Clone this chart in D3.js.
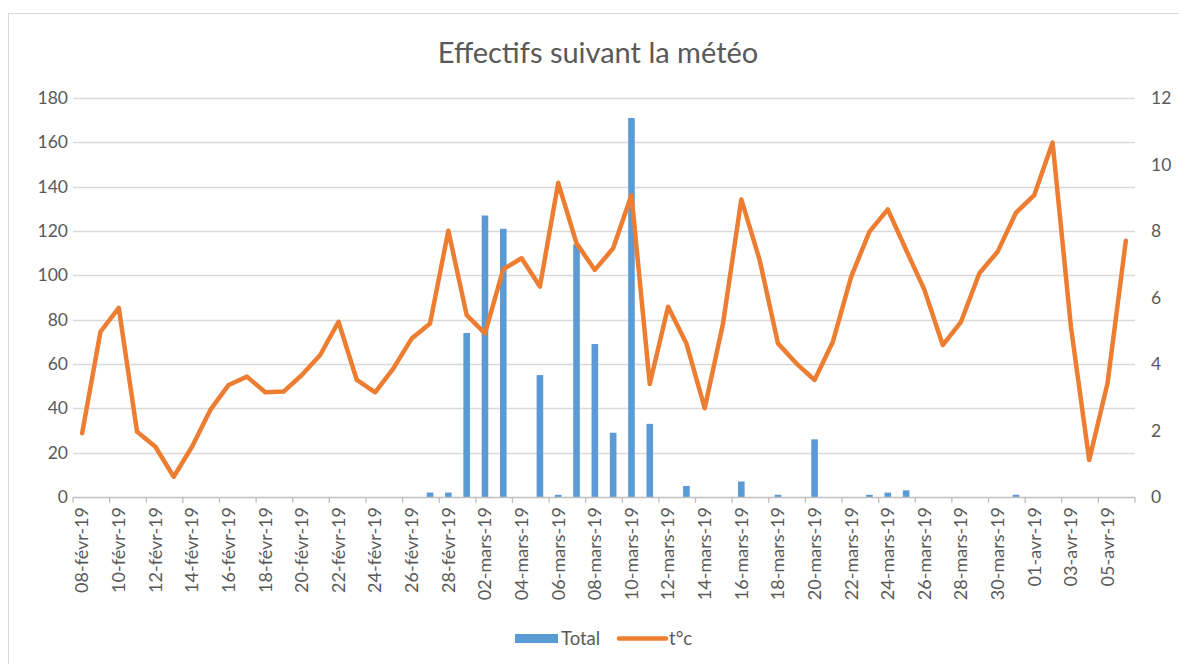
<!DOCTYPE html>
<html>
<head>
<meta charset="utf-8">
<script src="https://cdn.jsdelivr.net/npm/d3@7"></script>
<style>
  html, body { margin: 0; padding: 0; background: #fff; }
  svg { display: block; font-family: Lato, "Open Sans", sans-serif; }
</style>
</head>
<body>
<svg id="chart" width="1179" height="664"></svg>
<script>
const categories = [
  "08-févr-19","09-févr-19","10-févr-19","11-févr-19","12-févr-19","13-févr-19","14-févr-19","15-févr-19",
  "16-févr-19","17-févr-19","18-févr-19","19-févr-19","20-févr-19","21-févr-19","22-févr-19","23-févr-19",
  "24-févr-19","25-févr-19","26-févr-19","27-févr-19","28-févr-19",
  "01-mars-19","02-mars-19","03-mars-19","04-mars-19","05-mars-19","06-mars-19","07-mars-19","08-mars-19",
  "09-mars-19","10-mars-19","11-mars-19","12-mars-19","13-mars-19","14-mars-19","15-mars-19","16-mars-19",
  "17-mars-19","18-mars-19","19-mars-19","20-mars-19","21-mars-19","22-mars-19","23-mars-19","24-mars-19",
  "25-mars-19","26-mars-19","27-mars-19","28-mars-19","29-mars-19","30-mars-19","31-mars-19",
  "01-avr-19","02-avr-19","03-avr-19","04-avr-19","05-avr-19","06-avr-19"
];
const totalValues = [
  0,0,0,0,0,0,0,0,0,0,0,0,0,0,0,0,0,0,0,2,2,
  74,127,121,0,55,1,114,69,29,171,33,0,5,0,0,7,0,1,0,26,0,0,1,2,3,0,0,0,0,0,1,
  0,0,0,0,0,0
];
const tempValues = [
  1.92,4.97,5.69,1.96,1.51,0.61,1.51,2.62,3.37,3.62,3.15,3.17,3.67,4.27,5.27,3.52,3.15,3.87,4.77,5.22,8.01,
  5.47,4.92,6.85,7.18,6.33,9.45,7.63,6.83,7.48,9.08,3.40,5.72,4.62,2.67,5.22,8.95,7.13,4.62,4.02,3.52,4.67,
  6.63,7.98,8.65,7.43,6.23,4.57,5.27,6.73,7.38,8.55,
  9.08,10.66,5.12,1.11,3.42,7.71
];
const leftTicks = [0,20,40,60,80,100,120,140,160,180];
const rightTicks = [0,2,4,6,8,10,12];
const titleText = "Effectifs suivant la météo";
const seriesNames = ["Total", "t°c"];

(function () {
const svg = d3.select("#chart");
const pLeft = 73, pRight = 1135, pTop = 98, pBottom = 497;
const textColor = "#595959";

// outer chart border
svg.append("rect").attr("x", 8.5).attr("y", 13.5).attr("width", 1200).attr("height", 700)
  .attr("fill", "#fff").attr("stroke", "#D9D9D9").attr("stroke-width", 1);

const x = d3.scaleBand().domain(categories).range([pLeft, pRight]).padding(0);
const yL = d3.scaleLinear().domain([0, 180]).range([pBottom, pTop]);
const yR = d3.scaleLinear().domain([0, 12]).range([pBottom, pTop]);

// title
svg.append("text").attr("x", 598).attr("y", 63).attr("text-anchor", "middle")
  .attr("font-size", 29).attr("fill", textColor).text(titleText);

// gridlines
svg.append("g").selectAll("line").data(leftTicks.filter(d => d > 0)).join("line")
  .attr("x1", pLeft).attr("x2", pRight)
  .attr("y1", d => Math.round(yL(d)) + 0.5).attr("y2", d => Math.round(yL(d)) + 0.5)
  .attr("stroke", "#D9D9D9").attr("stroke-width", 1.3);

// left axis labels
svg.append("g").selectAll("text").data(leftTicks).join("text")
  .attr("x", 68).attr("y", d => yL(d)).attr("dy", "0.35em").attr("text-anchor", "end")
  .attr("font-size", 17.5).attr("fill", textColor).text(d => d);

// right axis labels
svg.append("g").selectAll("text").data(rightTicks).join("text")
  .attr("x", 1151).attr("y", d => yR(d)).attr("dy", "0.35em").attr("text-anchor", "start")
  .attr("font-size", 17.5).attr("fill", textColor).text(d => d);

// bars
const bw = x.bandwidth() * 0.36;
svg.append("g").selectAll("rect").data(categories.map((c, i) => ({c, v: totalValues[i]})).filter(d => d.v > 0))
  .join("rect")
  .attr("x", d => x(d.c) + x.bandwidth() / 2 - bw / 2)
  .attr("width", bw)
  .attr("y", d => yL(d.v))
  .attr("height", d => yL(0) - yL(d.v))
  .attr("fill", "#5B9BD5");

// x axis line
svg.append("line").attr("x1", pLeft).attr("x2", pRight).attr("y1", pBottom + 0.5).attr("y2", pBottom + 0.5)
  .attr("stroke", "#BFBFBF").attr("stroke-width", 1.3);

// x tick marks: every other category boundary
const tickPos = categories.filter((c, i) => i % 2 === 0).map(c => x(c)).concat([pRight]);
svg.append("g").selectAll("line").data(tickPos).join("line")
  .attr("x1", d => d).attr("x2", d => d).attr("y1", pBottom).attr("y2", pBottom + 6)
  .attr("stroke", "#BFBFBF").attr("stroke-width", 1.3);

// x labels
svg.append("g").selectAll("text").data(categories.filter((c, i) => i % 2 === 0)).join("text")
  .attr("transform", d => `translate(${x(d) + x.bandwidth() / 2},507) rotate(-90)`)
  .attr("dy", "0.35em").attr("text-anchor", "end")
  .attr("font-size", 18).attr("fill", textColor).text(d => d);

// temperature line
const line = d3.line().x((d, i) => x(categories[i]) + x.bandwidth() / 2).y(d => yR(d));
svg.append("path").datum(tempValues).attr("d", line)
  .attr("fill", "none").attr("stroke", "#ED7D31").attr("stroke-width", 4.5)
  .attr("stroke-linejoin", "round").attr("stroke-linecap", "round");

// legend
const lg = svg.append("g");
lg.append("rect").attr("x", 515).attr("y", 634).attr("width", 43).attr("height", 9).attr("fill", "#5B9BD5");
lg.append("text").attr("x", 561).attr("y", 639).attr("dy", "0.35em").attr("font-size", 18.5)
  .attr("fill", textColor).text(seriesNames[0]);
lg.append("line").attr("x1", 619).attr("x2", 666).attr("y1", 638.5).attr("y2", 638.5)
  .attr("stroke", "#ED7D31").attr("stroke-width", 4.5).attr("stroke-linecap", "round");
lg.append("text").attr("x", 669).attr("y", 639).attr("dy", "0.35em").attr("font-size", 18.5)
  .attr("fill", textColor).text(seriesNames[1]);
})();
</script>
</body>
</html>
